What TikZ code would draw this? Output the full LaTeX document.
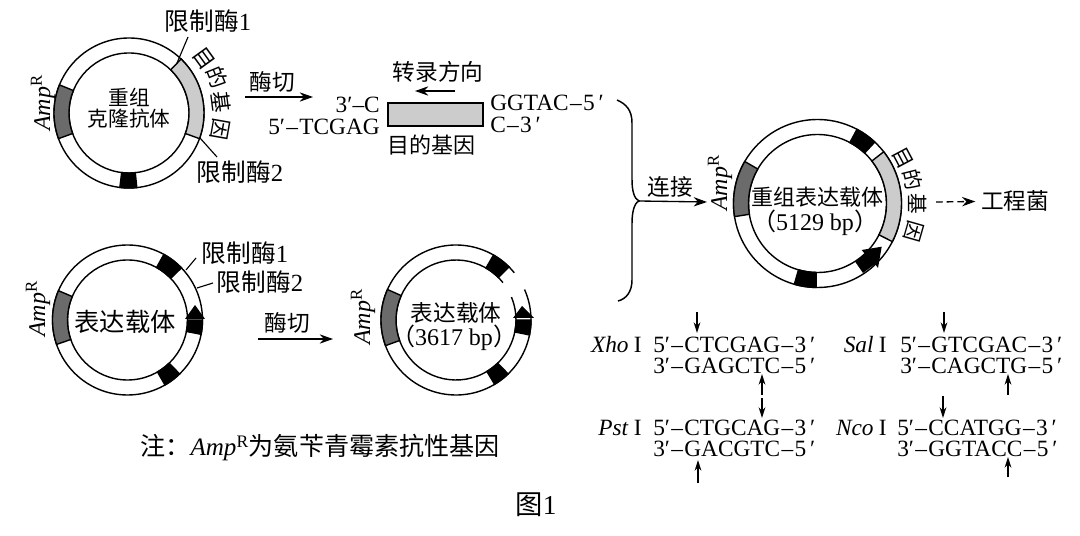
\documentclass[tikz,border=0pt]{standalone}
\usepackage{fontspec}
\setmainfont{Liberation Serif}
\newfontfamily\cjk{Noto Sans CJK SC}
\usetikzlibrary{arrows.meta, positioning}
\newcommand{\zh}[1]{{\cjk #1}}
\newcommand{\amp}{\textit{Amp}\textsuperscript{R}}
\newcommand{\dsh}{\kern1pt–\kern1pt}
% band of a ring: centre, from angle, to angle, outer r, inner r, colour
\newcommand{\ringband}[6]{
	\draw[ring, fill=#6] ([shift={(#2:#4)}]#1) arc (#2:#3:#4) -- ([shift={(#3:#5)}]#1) arc (#3:#2:#5) -- cycle;
}
\tikzset{
	txt/.style={font=\fontsize{#1}{#1}\selectfont, inner sep=0pt},
	txt/.default=17.5,
	ring/.style={line width=1.05pt},
	lead/.style={line width=0.85pt},
	pointer/.style={line width=1pt, -{Stealth[length=10pt, width=7pt]}},
	cut/.style={line width=1pt, -{Stealth[length=8pt, width=5pt]}},
}
\definecolor{ampgray}{gray}{0.42}
\definecolor{genegray}{gray}{0.80}

\begin{document}
\begin{tikzpicture}[x=0.75pt, y=0.75pt]
	\useasboundingbox (0,0) rectangle (1080,535);
	\coordinate (c1) at (129,422);
	\coordinate (c2) at (127.5,215);
	\coordinate (c3) at (456,215);
	\coordinate (c4) at (817.5,331.5);

	% clone plasmid
	\draw[ring] (c1) circle (75);
	\draw[ring] (c1) circle (60);
	\ringband{c1}{158}{200}{75}{60}{ampgray}
	\ringband{c1}{-20}{46}{75}{60}{genegray}
	\ringband{c1}{263}{276}{75}{60}{black}
	\node[txt=18, rotate=90] (amp1) at (43,432) {\amp};
	\node[txt=15.5] (clone1) at (129,438) {\zh{重组}};
	\node[txt=15.5] (clone2) at (129,416) {\zh{克隆抗体}};
	\node[txt=18.5] (re1a) at (208,514) {\zh{限制酶}1};
	\node[txt=18.5] (re2a) at (240,363) {\zh{限制酶}2};
	\coordinate (re1a end) at (177,472);
	\coordinate (re2a end) at (200,397);
	\draw[lead] (re1a end) -- (188,498);
	\draw[lead] (re2a end) -- (217,378);
	\foreach \ch/\ang/\rad/\nm in {目/36/92/a, 的/22/95/b, 基/7/93/c, 因/-10/93/d}
		\node[txt=16, rotate=\ang-90] (gene1\nm) at ([shift={(\ang:\rad)}]c1) {\zh{\ch}};

	% fragment
	\node[txt=17] (cut1) at (272,453) {\zh{酶切}};
	\coordinate (cut1 s) at (245,438);
	\coordinate (cut1 e) at (313,438);
	\draw[pointer] (cut1 s) -- (cut1 e);
	\node[draw, line width=1.5pt, fill=genegray, minimum width=71pt, minimum height=17pt, inner sep=0pt] (insert) at (435.5,420.5) {};
	\node[txt=17] (dir) at (438,463) {\zh{转录方向}};
	\coordinate (dir s) at (455,444);
	\coordinate (dir e) at (415,444);
	\draw[pointer] (dir s) -- (dir e);
	\node[txt=16.5] (goal) at (431,390) {\zh{目的基因}};
	\node[txt, anchor=east] (left1) at (380,430) {3′–C};
	\node[txt, anchor=east] (left2) at (380,408) {5′\dsh TCGAG};
	\node[txt, anchor=west] (right1) at (490,432) {GGTAC\dsh 5\,′};
	\node[txt, anchor=west] (right2) at (490,410) {C\dsh 3\,′};

	% brace
	\coordinate (tip) at (639,334);
	\coordinate (link e) at (707,333);
	\draw[line width=1.1pt] (617,435) .. controls (626,431) and (632,425) .. (632,412) -- (632,355) .. controls (632,345) and (634,336) .. (tip) .. controls (634,332) and (632,322) .. (632,312) -- (632,255) .. controls (632,243) and (626,236) .. (618,234);
	\draw[pointer] (tip) -- (link e);
	\node[txt=17] (link) at (670,348) {\zh{连接}};

	% expression vector
	\draw[ring] (c2) circle (75);
	\draw[ring] (c2) circle (60);
	\ringband{c2}{157}{199}{75}{60}{ampgray}
	\ringband{c2}{44}{61}{75}{60}{black}
	\ringband{c2}{-11}{0}{75}{60}{black}
	\ringband{c2}{-60}{-46}{75}{60}{black}
	\fill (195,230) -- (185,216) -- (205,216) -- cycle;
	\node[txt=18, rotate=90] (amp2) at (38,226) {\amp};
	\node[txt=19] (vec1) at (125,213) {\zh{表达载体}};
	\node[txt=18.5] (re1b) at (245,282) {\zh{限制酶}1};
	\node[txt=18.5] (re2b) at (260,253) {\zh{限制酶}2};
	\coordinate (re1b end) at (186,265);
	\coordinate (re2b end) at (197,247);
	\draw[lead] (re1b end) -- (196,277);
	\draw[lead] (re2b end) -- (213,252);
	\node[txt=17] (cut2) at (287,212) {\zh{酶切}};
	\coordinate (cut2 s) at (258,196);
	\coordinate (cut2 e) at (333,196);
	\draw[pointer] (cut2 s) -- (cut2 e);

	% opened vector
	\draw[ring] ([shift={(39:75)}]c3) arc (39:384:75);
	\draw[ring] ([shift={(38.5:60)}]c3) arc (38.5:382.5:60);
	\ringband{c3}{156}{200}{75}{60}{ampgray}
	\ringband{c3}{45}{60}{75}{60}{black}
	\ringband{c3}{-11.5}{0}{75}{60}{black}
	\ringband{c3}{-59}{-46}{75}{60}{black}
	\fill (522,229) -- (513,217) -- (534,217) -- cycle;
	\node[txt=18, rotate=90] (amp3) at (363,218) {\amp};
	\node[txt=17] (vec2) at (456,222) {\zh{表达载体}};
	\node[txt=18] (vec2 bp) at (454,197) {\zh{（}3617 bp\zh{）}};

	% recombinant vector
	\draw[ring] (c4) circle (84);
	\draw[ring] (c4) circle (69);
	\ringband{c4}{150}{189}{84}{69}{ampgray}
	\ringband{c4}{47}{62}{84}{69}{black}
	\ringband{c4}{-27}{38}{84}{69}{genegray}
	\ringband{c4}{254}{269}{84}{69}{black}
	\fill (855,273.5) -- (865,281) -- (861.7,285) -- (881.7,288.3) -- (878,267) -- (875,271) -- (863,262) -- cycle;
	\node[txt=18, rotate=90] (amp4) at (720,352) {\amp};
	\node[txt=16.5] (vec3) at (817,338) {\zh{重组表达载体}};
	\node[txt=18] (vec3 bp) at (815,312) {\zh{（}5129 bp\zh{）}};
	\foreach \ch/\ang/\rad/\nm in {目/28/97/a, 的/14/98/b, 基/0/100/c, 因/-16/100/d}
		\node[txt=15.5, rotate=\ang-90] (gene2\nm) at ([shift={(\ang:\rad)}]c4) {\zh{\ch}};
	\coordinate (host s) at (936,333);
	\node[txt=17] (host) at (1015,334) {\zh{工程菌}};
	\draw[pointer, dash pattern=on 5pt off 3pt, shorten >=4pt] (host s) -- (host);

	% enzymes
	\node[txt, anchor=east] (xho) at (642,190) {\textit{Xho}\kern4pt I};
	\node[txt, anchor=west] (xho1) at (653,190) {5′\dsh CTCGAG\dsh 3\,′};
	\node[txt, anchor=west] (xho2) at (653,169) {3′\dsh GAGCTC\dsh 5\,′};
	\node[txt, anchor=east] (pst) at (642,107) {\textit{Pst}\kern4pt I};
	\node[txt, anchor=west] (pst1) at (653,107) {5′\dsh CTGCAG\dsh 3\,′};
	\node[txt, anchor=west] (pst2) at (653,86) {3′\dsh GACGTC\dsh 5\,′};
	\node[txt, anchor=east] (sal) at (887,190) {\textit{Sal}\kern4pt I};
	\node[txt, anchor=west] (sal1) at (900,190) {5′\dsh GTCGAC\dsh 3\,′};
	\node[txt, anchor=west] (sal2) at (900,169) {3′\dsh CAGCTG\dsh 5\,′};
	\node[txt, anchor=east] (nco) at (887,107) {\textit{Nco}\kern4pt I};
	\node[txt, anchor=west] (nco1) at (897,107) {5′\dsh CCATGG\dsh 3\,′};
	\node[txt, anchor=west] (nco2) at (897,86) {3′\dsh GGTACC\dsh 5\,′};
	\foreach \nm/\ax/\ys/\ye in {xa/697/223/202, xb/762/140/161, pa/762/137/117, pb/698/52/75, sa/944/223/202, sb/1008/140/161, na/943/139/117, nb/1008/58/78}{
		\coordinate (\nm s) at (\ax,\ys);
		\coordinate (\nm e) at (\ax,\ye);
		\draw[cut] (\nm s) -- (\nm e);
	}

	% notes
	\node[txt=18.8] (note) at (320,87) {\zh{注：}\amp\zh{为氨苄青霉素抗性基因}};
	\node[txt=20.5] (fig) at (536,30) {\zh{图}1};
\end{tikzpicture}
\end{document}
